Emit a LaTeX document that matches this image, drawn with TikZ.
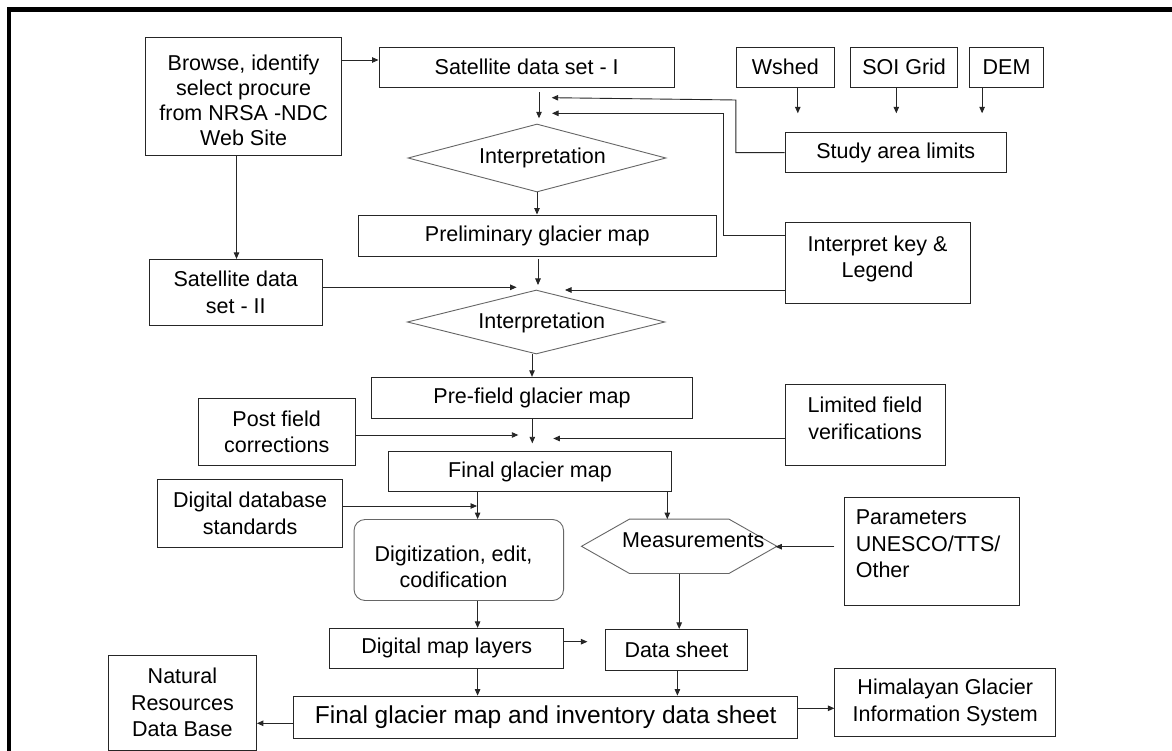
\documentclass[tikz,border=0pt]{standalone}
\usepackage{fontspec}
\setmainfont{Liberation Sans}
\usetikzlibrary{arrows.meta,shapes.geometric,calc}
\newcommand\fsn{\fontsize{21.5}{26.5}\selectfont}
\newcommand\fsb{\fontsize{21.5}{25}\selectfont}
\newcommand\fsl{\fontsize{24.5}{29}\selectfont}
\begin{document}
\begin{tikzpicture}[x=1pt,y=-1pt,
  box/.style={draw=black!85,line width=0.9pt,inner sep=0pt,align=center,font=\fsn},
  gshape/.style={draw=black!60,line width=0.9pt},
  txt/.style={inner sep=0pt,align=center,font=\fsn},
  arr/.style={draw=black!85,line width=0.9pt,-{Triangle[length=6.5pt,width=5.5pt]}},
  frame/.style={line width=4.5pt,black}]
\useasboundingbox (0,0) rectangle (1172,751);
\fill[white] (0,0) rectangle (1172,751);
\begin{scope}
\clip (0,0) rectangle (1172,751);
\draw[frame] (9.2,760) -- (9.2,9.5) -- (1180,9.5);
\end{scope}

% ---- boxes
\node[box,minimum width=196.4pt,minimum height=117.7pt] (browse) at (243.6,96.2) {};
\node[txt,font=\fsb] (browset) at (243.6,100.5) {Browse, identify\\select procure\\from NRSA -NDC\\Web Site};
\node[box,minimum width=295.5pt,minimum height=40pt] (sat1) at (526.7,67) {Satellite data set - I};
\node[box,minimum width=98.9pt,minimum height=40pt] (wshed) at (785.4,67) {Wshed};
\node[box,minimum width=106.8pt,minimum height=40pt] (soi) at (904.1,67) {SOI Grid};
\node[box,minimum width=74pt,minimum height=40pt] (dem) at (1006.6,67) {DEM};
\node[box,minimum width=221.6pt,minimum height=40pt] (study) at (895.8,152.7) {Study area limits};
\node[diamond,gshape,aspect=3.8,inner sep=0pt,minimum width=258pt,minimum height=68pt] (d1) at (537,158) {};
\node[txt] (d1t) at (542.5,158) {Interpretation};
\node[box,minimum width=357.3pt,minimum height=41pt] (prelim) at (537.3,235.5) {Preliminary glacier map};
\node[box,minimum width=172.9pt,minimum height=65.7pt] (sat2) at (235.8,292.2) {Satellite data\\set - II};
\node[box,minimum width=185pt,minimum height=80.6pt] (interp) at (877.5,263) {};
\node[txt] (interpt) at (877.5,259) {Interpret key \&\\Legend};
\node[diamond,gshape,aspect=4,inner sep=0pt,minimum width=257.7pt,minimum height=64pt] (d2) at (536.2,322) {};
\node[txt] (d2t) at (541.7,323.3) {Interpretation};
\node[box,minimum width=320.6pt,minimum height=41pt] (prefield) at (532,397.8) {Pre-field glacier map};
\node[box,minimum width=156.9pt,minimum height=66.7pt] (post) at (276.7,431.7) {Post field\\corrections};
\node[box,minimum width=160pt,minimum height=80.7pt] (limited) at (865,424.7) {};
\node[txt] (limitedt) at (865,418.3) {Limited field\\verifications};
\node[box,minimum width=283.3pt,minimum height=40pt] (final) at (530,471.7) {Final glacier map};
\node[box,minimum width=184.8pt,minimum height=68pt] (dds) at (250.1,513.3) {Digital database\\standards};
\node[gshape,rounded corners=11pt,inner sep=0pt,minimum width=209.5pt,minimum height=81pt] (digit) at (458.8,560) {};
\node[txt] (digitt) at (453.5,566.7) {Digitization, edit,\\codification};
\node[inner sep=0pt,minimum width=195pt,minimum height=54pt] (meas) at (679.2,546.3) {};
\draw[gshape] (meas.west) -- ([xshift=48pt]meas.north west) -- ([xshift=-48pt]meas.north east)
  -- (meas.east) -- ([xshift=-48pt]meas.south east) -- ([xshift=48pt]meas.south west) -- cycle;
\node[txt] (meast) at (693.3,540.7) {Measurements};
\node[box,minimum width=174.7pt,minimum height=107.7pt] (params) at (931.7,551.2) {};
\node[txt,align=left,anchor=west] (paramst) at (855.6,544) {Parameters\\UNESCO/TTS/\\Other};
\node[box,minimum width=233.8pt,minimum height=40pt] (dml) at (446.8,648.3) {Digital map layers};
\node[box,minimum width=141.5pt,minimum height=40.7pt] (datasheet) at (676.5,649.7) {Data sheet};
\node[box,font=\fsl,minimum width=504.3pt,minimum height=42.3pt] (finalinv) at (545.7,717.2) {Final glacier map and inventory data sheet};
\node[box,minimum width=148.1pt,minimum height=95pt] (natural) at (182.4,702.5) {Natural\\Resources\\Data Base};
\node[box,minimum width=220.9pt,minimum height=67.3pt] (himalayan) at (945.3,702.3) {Himalayan Glacier\\Information System};

% ---- helper coordinates
\coordinate (r60) at (0,60);
\coordinate (c236) at (236.5,0);
\coordinate (s1a) at (539,92.3);
\coordinate (s1b) at (539,118.3);
\coordinate (tw) at (797.8,113.3);
\coordinate (ts) at (896.3,113.3);
\coordinate (td) at (982.1,113.3);
\coordinate (t1) at (551.7,97.7);
\coordinate (t2) at (552,113.3);
\coordinate (r235) at (0,235);
\coordinate (p1) at (538,285);
\coordinate (t3) at (516.6,287.3);
\coordinate (t4) at (565,290);
\coordinate (c532) at (532,0);
\coordinate (t5) at (532.3,443.3);
\coordinate (t6) at (518.3,435);
\coordinate (t7) at (553.3,438.5);
\coordinate (c477) at (477.6,0);
\coordinate (t8) at (477,506);
\coordinate (c667) at (667.3,0);
\coordinate (r547) at (0,546.7);
\coordinate (t10) at (587.4,641.7);
\coordinate (c677) at (677.4,0);
\coordinate (r723) at (0,723.3);
\coordinate (r708) at (0,708.3);

% ---- connectors
\draw[arr] (browse.east |- r60) -- (sat1.west |- r60);
\draw[arr] (c236 |- browse.south) -- (c236 |- sat2.north);
\draw[arr] (s1a) -- (s1b);
\draw[arr] (tw |- wshed.south) -- (tw);
\draw[arr] (ts |- soi.south) -- (ts);
\draw[arr] (td |- dem.south) -- (td);
\draw[arr] (study.west) -- (735.9,152.7) -- (735.9,100) -- (t1);
\draw[arr] (interp.west |- r235) -- (723.4,235) -- (723.4,113.3) -- (t2);
\draw[arr] (d1.south) -- (d1.south |- prelim.north);
\draw[arr] ($(prelim.south -| p1)+(0,3)$) -- (p1);
\draw[arr] (sat2.east |- t3) -- (t3);
\draw[arr] (interp.west |- t4) -- (t4);
\draw[arr] (c532 |- d2.south) -- (c532 |- prefield.north);
\draw[arr] (t5 |- prefield.south) -- (t5);
\draw[arr] (post.east |- t6) -- (t6);
\draw[arr] (limited.west |- t7) -- (t7);
\draw[arr] (c477 |- final.south) -- (c477 |- digit.north);
\draw[arr] (dds.east |- t8) -- (t8);
\draw[arr] (c667 |- final.south) -- (c667 |- meas.north);
\draw[arr] ($(params.west |- r547)+(-9.5,0)$) -- ($(meas.east |- r547)+(-1.5,0)$);
\draw[arr] (c477 |- digit.south) -- (c477 |- dml.north);
\draw[arr] (meas.south) -- (meas.south |- datasheet.north);
\draw[arr] (dml.east |- t10) -- (t10);
\draw[arr] (c477 |- dml.south) -- (c477 |- finalinv.north);
\draw[arr] (c677 |- datasheet.south) -- (c677 |- finalinv.north);
\draw[arr] (finalinv.west |- r723) -- (natural.east |- r723);
\draw[arr] (finalinv.east |- r708) -- (himalayan.west |- r708);
\end{tikzpicture}
\end{document}
